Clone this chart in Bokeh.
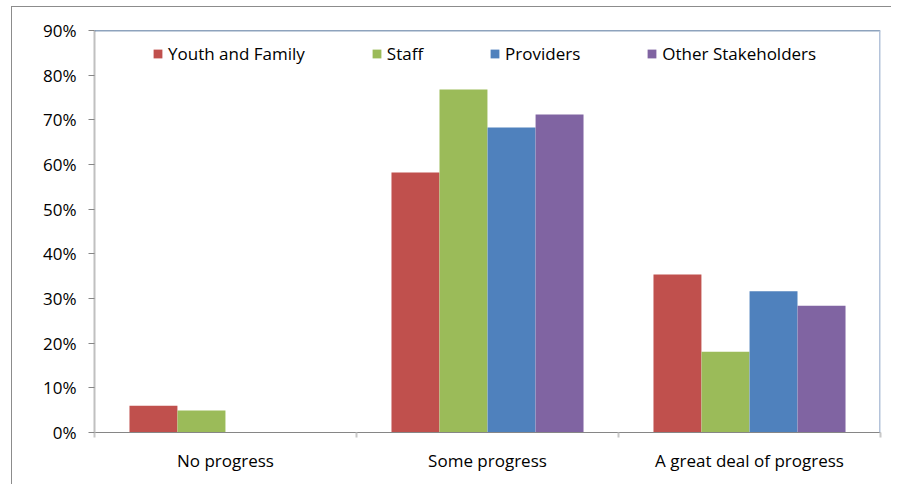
from bokeh.plotting import figure
from bokeh.models import (ColumnDataSource, FixedTicker, NumeralTickFormatter, Span,
                          Legend, LinearAxis, Range1d)
from bokeh.transform import dodge
from bokeh.embed import file_html
from bokeh.resources import INLINE

categories = ["No progress", "Some progress", "A great deal of progress"]
youth_family = [0.060, 0.582, 0.354]
staff = [0.049, 0.768, 0.181]
providers = [0.0, 0.683, 0.316]
other_stakeholders = [0.0, 0.712, 0.284]
series_names = ["Youth and Family", "Staff", "Providers", "Other Stakeholders"]
colors = ["#C0504D", "#9BBB59", "#4F81BD", "#8064A2"]
y_ticks = [0.0, 0.1, 0.2, 0.3, 0.4, 0.5, 0.6, 0.7, 0.8, 0.9]

FONT = "Open Sans"

xs = [i + 0.5 for i in range(len(categories))]
src = ColumnDataSource(dict(x=xs, youth=youth_family, staff=staff,
                            prov=providers, other=other_stakeholders))

p = figure(width=880, height=478, output_backend="svg", toolbar_location=None,
           x_range=Range1d(0, len(categories)), y_range=Range1d(0, 0.9),
           min_border_left=82, min_border_right=12, min_border_top=23,
           min_border_bottom=53, x_axis_type=None, y_axis_type=None)
p.styles = {"border-left": "1px solid #8c8c8c", "border-top": "1px solid #8c8c8c",
            "margin-left": "11px", "margin-top": "6px"}
p.outline_line_color = None
p.background_fill_color = "white"
p.border_fill_color = "white"

# y axis
yaxis = LinearAxis(ticker=FixedTicker(ticks=y_ticks, minor_ticks=[]),
                   formatter=NumeralTickFormatter(format="0%"))
yaxis.axis_line_color = "#c0c0c0"
yaxis.axis_line_width = 2
yaxis.major_tick_line_color = "#868686"
yaxis.major_tick_out = 6
yaxis.major_tick_in = 0
yaxis.minor_tick_line_color = None
yaxis.major_label_text_font = FONT
yaxis.major_label_text_font_size = "17px"
yaxis.major_label_text_color = "#000000"
yaxis.major_label_standoff = 12
p.add_layout(yaxis, "left")

# x axis: labels at category centres, separators between categories
xaxis = LinearAxis(ticker=FixedTicker(ticks=xs, minor_ticks=[0, 1, 2, 3]))
xaxis.major_label_overrides = {x: c for x, c in zip(xs, categories)}
xaxis.axis_line_color = "#868686"
xaxis.axis_line_width = 1
xaxis.major_tick_line_color = None
xaxis.minor_tick_line_color = "#c8c8c8"
xaxis.minor_tick_line_width = 2
xaxis.minor_tick_out = 5
xaxis.minor_tick_in = 0
xaxis.major_label_text_font = FONT
xaxis.major_label_text_font_size = "17px"
xaxis.major_label_text_color = "#000000"
xaxis.major_label_standoff = 10
p.add_layout(xaxis, "below")

p.ygrid.grid_line_color = "#868686"
p.ygrid.grid_line_width = 1
p.ygrid.ticker = FixedTicker(ticks=y_ticks[:-1])
p.xgrid.grid_line_color = None

bw = 0.183
offsets = [-0.275, -0.0917, 0.0917, 0.275]
fields = ["youth", "staff", "prov", "other"]
renderers = []
for f, off, c in zip(fields, offsets, colors):
    r = p.vbar(x=dodge("x", off, range=p.x_range), top=f, width=bw, source=src,
               fill_color=c, line_color=None)
    renderers.append(r)

p.add_layout(Span(location=0.9, dimension="width", line_color="#1f497d", line_width=1.5))
p.add_layout(Span(location=len(categories), dimension="height", line_color="#b4c3da",
                  line_width=3))

legend = Legend(items=[(n, [r]) for n, r in zip(series_names, renderers)],
                orientation="horizontal", location=(58, 367))
legend.label_text_font = FONT
legend.label_text_font_size = "17px"
legend.label_text_color = "#000000"
legend.glyph_width = 11
legend.glyph_height = 11
legend.label_standoff = 5
legend.spacing = 66
legend.padding = 0
legend.margin = 0
legend.label_height = 20
legend.border_line_color = None
legend.background_fill_alpha = 0
p.add_layout(legend, "center")

open("out.html", "w").write(file_html(p, INLINE))
